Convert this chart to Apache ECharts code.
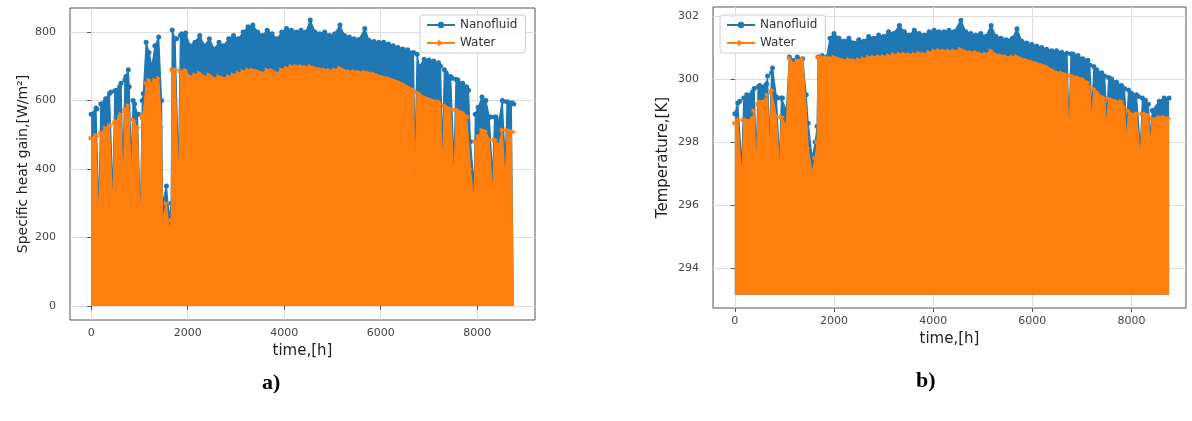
<!DOCTYPE html>
<html>
<head>
<meta charset="utf-8">
<script src="https://cdn.jsdelivr.net/npm/echarts@6/dist/echarts.min.js"></script>
<style>
  html, body { margin: 0; padding: 0; background: #fff; }
  #main { width: 1192px; height: 421px; }
</style>
</head>
<body>
<div id="main"></div>
<script>
// 刻度
var hourTicks = [0, 2000, 4000, 6000, 8000];
var gainTicks = [0, 200, 400, 600, 800];
var tempTicks = [294, 296, 298, 300, 302];

// 面板 a: 比热增益 (上包络, 从图中读取, 含阴天的低谷)
var hoursA = [0, 100, 120, 160, 200, 220, 300, 380, 410, 450, 490, 520, 590, 620, 660, 700, 720, 770, 790, 830,
    870, 900, 960, 980, 1020, 1060, 1080, 1140, 1200, 1260, 1320, 1400, 1460, 1480, 1560, 1620, 1660, 1680, 1740, 1770,
    1810, 1850, 1880, 1960, 2050, 2150, 2250, 2350, 2450, 2550, 2650, 2750, 2850, 2950, 3050, 3150, 3250, 3350, 3450, 3550,
    3650, 3750, 3850, 3950, 4050, 4150, 4250, 4350, 4450, 4540, 4640, 4740, 4840, 4940, 5050, 5155, 5250, 5350, 5450, 5550,
    5670, 5760, 5860, 5960, 6060, 6160, 6260, 6360, 6460, 6560, 6680, 6710, 6725, 6755, 6800, 6900, 7000, 7100, 7200, 7240,
    7280, 7320, 7360, 7450, 7480, 7520, 7560, 7600, 7700, 7780, 7820, 7860, 7940, 7960, 8020, 8100, 8180, 8250, 8280, 8320,
    8360, 8390, 8450, 8520, 8540, 8580, 8620, 8640, 8720, 8759];
var nanoGainA = [560, 578, 575, 280, 590, 590, 605, 620, 625, 330, 628, 630, 640, 650, 400, 660, 670, 690, 640, 420,
    600, 590, 560, 560, 250, 600, 620, 770, 740, 700, 760, 785, 600, 300, 350, 260, 300, 806, 780, 780,
    400, 790, 795, 797, 760, 770, 790, 760, 780, 750, 770, 760, 780, 790, 780, 800, 815, 820, 800, 790,
    805, 795, 780, 800, 810, 805, 800, 805, 800, 835, 800, 795, 800, 790, 795, 820, 790, 785, 780, 778,
    810, 775, 772, 770, 770, 765, 760, 755, 750, 748, 740, 430, 430, 735, 700, 720, 718, 715, 710, 700,
    460, 690, 680, 670, 665, 420, 662, 660, 650, 640, 630, 480, 350, 560, 580, 610, 600, 552, 552, 380,
    552, 552, 540, 600, 598, 420, 596, 595, 593, 590];
var waterGainA = [490, 499, 495, 230, 505, 505, 520, 525, 530, 280, 535, 540, 552, 560, 330, 570, 575, 585, 560, 350,
    545, 540, 520, 520, 210, 550, 560, 650, 660, 650, 660, 665, 520, 250, 300, 220, 250, 690, 690, 690,
    340, 685, 685, 688, 670, 675, 680, 670, 675, 665, 670, 665, 670, 675, 680, 685, 690, 690, 685, 680,
    690, 688, 680, 690, 695, 700, 700, 700, 698, 700, 695, 692, 690, 688, 690, 695, 688, 685, 685, 683,
    683, 680, 678, 672, 668, 665, 660, 655, 648, 640, 632, 370, 370, 625, 620, 610, 605, 600, 598, 590,
    390, 586, 582, 575, 574, 360, 573, 572, 565, 555, 550, 400, 300, 480, 495, 514, 510, 485, 485, 320,
    485, 485, 470, 514, 514, 360, 514, 514, 510, 508];

// 面板 b: 温度 (上包络)
var hoursB = [0, 60, 100, 140, 180, 240, 360, 390, 430, 470, 500, 640, 660, 700, 740, 760, 840, 860, 900, 940,
    960, 1040, 1100, 1180, 1260, 1370, 1440, 1480, 1560, 1620, 1660, 1680, 1760, 1850, 1920, 2000, 2100, 2200, 2300, 2400,
    2500, 2600, 2700, 2800, 2900, 3000, 3100, 3200, 3320, 3420, 3520, 3620, 3720, 3820, 3920, 4020, 4120, 4220, 4320, 4420,
    4560, 4660, 4760, 4860, 4960, 5060, 5170, 5270, 5370, 5470, 5600, 5690, 5790, 5890, 5990, 6090, 6190, 6290, 6390, 6490,
    6590, 6700, 6740, 6780, 6820, 6920, 7020, 7120, 7160, 7200, 7240, 7300, 7400, 7460, 7500, 7540, 7600, 7700, 7800, 7860,
    7900, 7940, 8000, 8100, 8140, 8180, 8220, 8280, 8340, 8380, 8420, 8450, 8560, 8660, 8759];
var nanoTempB = [298.9, 299.24, 299.3, 297.3, 299.4, 299.5, 299.6, 299.7, 297.6, 299.75, 299.8, 299.85, 300.1, 298.0, 300.2, 300.35, 299.43, 299.4, 297.4, 299.4,
    299.4, 299.0, 300.7, 300.6, 300.7, 300.65, 299.5, 298.6, 297.5, 298.0, 298.5, 300.7, 300.75, 300.7, 301.3, 301.45, 301.3, 301.2, 301.3, 301.15,
    301.25, 301.2, 301.35, 301.3, 301.4, 301.35, 301.5, 301.45, 301.7, 301.5, 301.4, 301.55, 301.45, 301.4, 301.5, 301.55, 301.5, 301.5, 301.55, 301.5,
    301.87, 301.5, 301.45, 301.4, 301.45, 301.35, 301.7, 301.35, 301.3, 301.25, 301.3, 301.6, 301.2, 301.15, 301.1, 301.05, 301.0, 300.95, 300.9, 300.9,
    300.85, 300.82, 298.5, 300.8, 300.8, 300.75, 300.65, 300.6, 300.45, 299.0, 300.4, 300.3, 300.2, 300.1, 298.8, 300.05, 300.0, 299.9, 299.8, 299.7,
    298.5, 299.65, 299.55, 299.5, 299.45, 297.8, 299.4, 299.33, 299.2, 298.2, 299.0, 299.0, 299.3, 299.4, 299.4];
var waterTempB = [298.6, 298.7, 298.7, 296.8, 298.7, 298.7, 298.75, 299.0, 297.0, 299.2, 299.3, 299.35, 299.5, 297.5, 299.6, 299.65, 298.8, 298.8, 297.0, 298.8,
    298.8, 298.5, 300.67, 300.5, 300.6, 300.65, 299.0, 297.8, 297.0, 297.5, 298.0, 300.7, 300.7, 300.68, 300.68, 300.7, 300.65, 300.6, 300.62, 300.6,
    300.62, 300.65, 300.7, 300.7, 300.72, 300.72, 300.75, 300.78, 300.8, 300.8, 300.78, 300.8, 300.82, 300.8, 300.85, 300.9, 300.92, 300.9, 300.9, 300.9,
    300.95, 300.88, 300.85, 300.85, 300.8, 300.8, 300.9, 300.78, 300.75, 300.72, 300.7, 300.72, 300.65, 300.6, 300.55, 300.5, 300.45, 300.4, 300.3, 300.22,
    300.2, 300.15, 298.0, 300.12, 300.1, 300.05, 300.0, 299.9, 299.75, 298.6, 299.7, 299.6, 299.45, 299.4, 298.5, 299.38, 299.35, 299.3, 299.3, 299.1,
    298.0, 299.0, 298.9, 298.9, 298.9, 297.5, 298.9, 298.9, 298.85, 297.9, 298.75, 298.7, 298.8, 298.8, 298.75];
var nightTempB = 293.15;   // 夜间最低温度

var blue = '#1f77b4';
var orange = '#ff7f0e';

function pairs(xs, ys) {
    return xs.map(function (x, i) { return [x, ys[i]]; });
}

function stepLabel(step) {
    return function (v) {
        return Math.abs(v / step - Math.round(v / step)) < 1e-6 ? String(Math.round(v)) : '';
    };
}

var myChart = echarts.init(document.getElementById('main'));

var tickFont = {color: '#444', fontSize: 11, fontFamily: 'DejaVu Sans'};
var nameFont = {color: '#222', fontSize: 15, fontFamily: 'DejaVu Sans'};
var gridLine = {show: true, lineStyle: {color: '#dcdcdc', width: 1}};

function ticksAt(values) {
    return {show: true, inside: false, length: 4, customValues: values, lineStyle: {color: '#555'}};
}

function xAxisOf(idx, min, max, gap) {
    return {
        type: 'value', gridIndex: idx, min: min, max: max,
        name: 'time,[h]', nameLocation: 'middle', nameGap: gap, nameTextStyle: nameFont,
        axisLine: {show: false}, axisTick: ticksAt(hourTicks), splitLine: gridLine,
        axisLabel: Object.assign({margin: 8, customValues: hourTicks, formatter: stepLabel(2000)}, tickFont)
    };
}

function seriesOf(name, color, idx, data, symbol, origin, z) {
    return {
        name: name, type: 'line', xAxisIndex: idx, yAxisIndex: idx,
        data: data, symbol: symbol, symbolSize: 5, symbolRotate: symbol === 'triangle' ? -90 : 0,
        showAllSymbol: true, animation: false, z: z,
        lineStyle: {color: color, width: 1.2},
        itemStyle: {color: color},
        areaStyle: {color: color, opacity: 1, origin: origin}
    };
}

var legendBase = {
    orient: 'vertical', data: ['Nanofluid', 'Water'],
    itemWidth: 28, itemHeight: 8, itemGap: 6,
    backgroundColor: 'rgba(255,255,255,0.85)', borderColor: '#ccc', borderWidth: 1, borderRadius: 3,
    padding: [4, 8, 4, 6],
    textStyle: {color: '#333', fontSize: 12, fontFamily: 'DejaVu Sans'}
};

var option = {
    backgroundColor: '#fff',
    grid: [
        {left: 70, top: 8, width: 465, height: 312, show: true, borderColor: '#555', borderWidth: 1, backgroundColor: 'transparent'},
        {left: 713, top: 7, width: 473, height: 301, show: true, borderColor: '#555', borderWidth: 1, backgroundColor: 'transparent'}
    ],
    xAxis: [
        xAxisOf(0, -438, 9198, 24),
        xAxisOf(1, -440, 9100, 22)
    ],
    yAxis: [
        {
            type: 'value', gridIndex: 0, min: -41, max: 870,
            name: 'Specific heat gain,[W/m²]', nameLocation: 'middle', nameGap: 40, nameRotate: 90,
            nameTextStyle: Object.assign({}, nameFont, {fontSize: 14}),
            axisLine: {show: false}, axisTick: ticksAt(gainTicks), splitLine: gridLine,
            axisLabel: Object.assign({margin: 14, customValues: gainTicks, formatter: stepLabel(200)}, tickFont)
        },
        {
            type: 'value', gridIndex: 1, min: 292.73, max: 302.29,
            name: 'Temperature,[K]', nameLocation: 'middle', nameGap: 42, nameRotate: 90,
            nameTextStyle: nameFont,
            axisLine: {show: false}, axisTick: ticksAt(tempTicks), splitLine: gridLine,
            axisLabel: Object.assign({margin: 14, customValues: tempTicks, formatter: stepLabel(2)}, tickFont)
        }
    ],
    legend: [
        Object.assign({left: 420, top: 15}, legendBase),
        Object.assign({left: 720, top: 15}, legendBase)
    ],
    graphic: [
        {type: 'text', left: 262, top: 372, style: {text: 'a)', fontSize: 22, fontWeight: 'bold', fontFamily: 'Liberation Serif', fill: '#000'}},
        {type: 'text', left: 916, top: 370, style: {text: 'b)', fontSize: 22, fontWeight: 'bold', fontFamily: 'Liberation Serif', fill: '#000'}}
    ],
    series: [
        seriesOf('Nanofluid', blue, 0, pairs(hoursA, nanoGainA), 'circle', 'auto', 2),
        seriesOf('Water', orange, 0, pairs(hoursA, waterGainA), 'triangle', 'auto', 3),
        seriesOf('Nanofluid', blue, 1, pairs(hoursB, nanoTempB), 'circle', nightTempB, 2),
        seriesOf('Water', orange, 1, pairs(hoursB, waterTempB), 'triangle', nightTempB, 3)
    ]
};

myChart.setOption(option);
</script>
</body>
</html>
